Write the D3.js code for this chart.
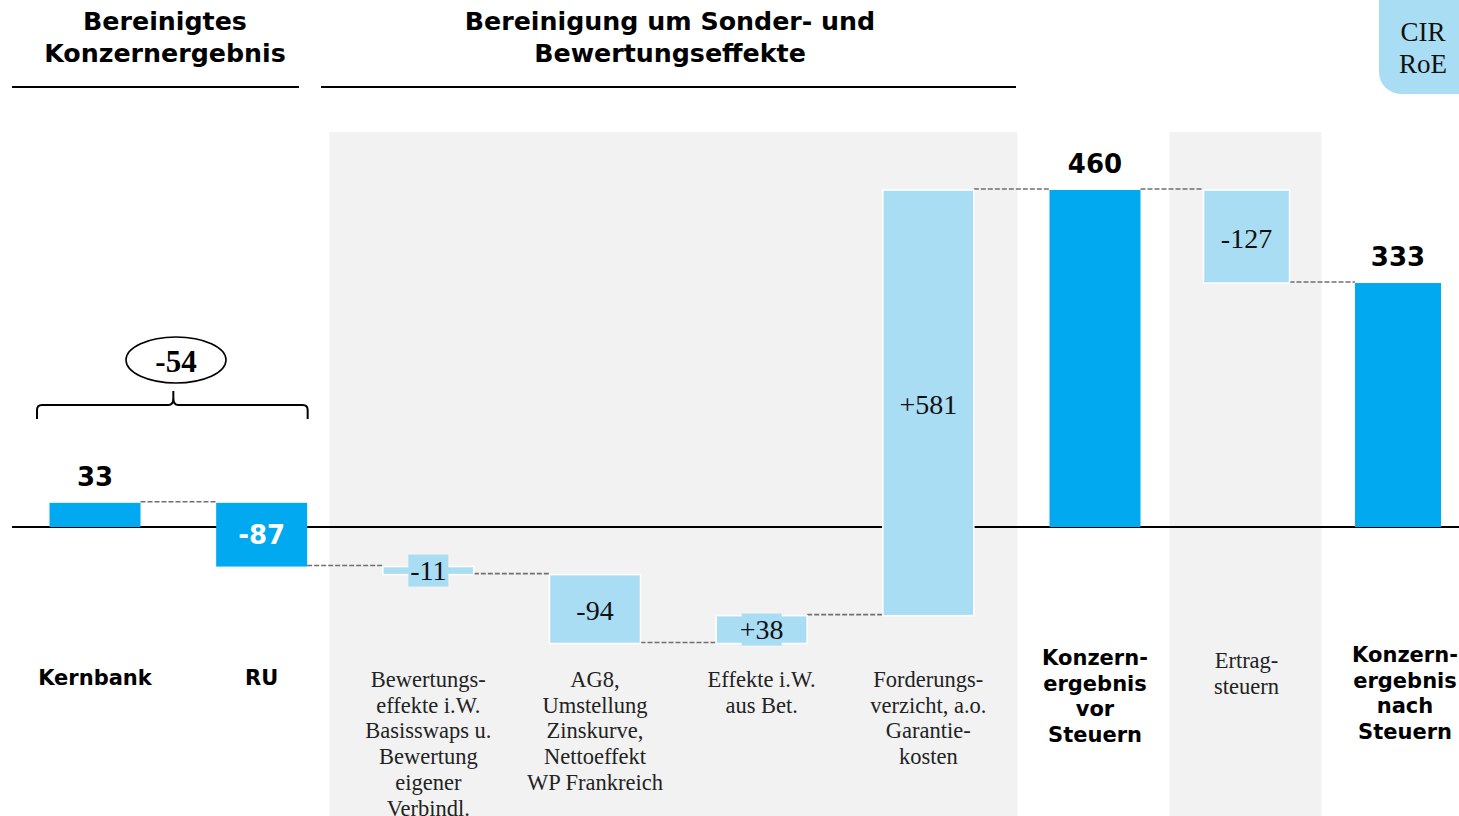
<!DOCTYPE html>
<html>
<head>
<meta charset="utf-8">
<script src="https://cdn.jsdelivr.net/npm/d3@7"></script>
<style>
  html, body { margin: 0; padding: 0; background: #ffffff; }
  svg { display: block; }
  .heavy { font-family: "DejaVu Sans", Roboto, sans-serif; font-weight: bold; }
  .serif { font-family: "Liberation Serif", "DejaVu Serif", serif; }
</style>
</head>
<body>
<svg id="chart" width="1459" height="816"></svg>
<script>
// Waterfall: bereinigtes Konzernergebnis bis Konzernergebnis nach Steuern (Mio. €)
const categories = ["Kernbank", "RU", "Bewertungseffekte", "AG8", "Effekte Bet.", "Forderungsverzicht",
                    "Konzernergebnis vor Steuern", "Ertragsteuern", "Konzernergebnis nach Steuern"];
const values = [33, -87, -11, -94, 38, 581, 460, -127, 333];
// start = first bar from zero, step = change from previous level, total = sum bar from zero
const kinds = ["start", "step", "step", "step", "step", "step", "total", "step", "total"];
const valueLabels = ["33", "-87", "-11", "-94", "+38", "+581", "460", "-127", "333"];
const categoryLines = [
  ["Kernbank"],
  ["RU"],
  ["Bewertungs-", "effekte i.W.", "Basisswaps u.", "Bewertung", "eigener", "Verbindl."],
  ["AG8,", "Umstellung", "Zinskurve,", "Nettoeffekt", "WP Frankreich"],
  ["Effekte i.W.", "aus Bet."],
  ["Forderungs-", "verzicht, a.o.", "Garantie-", "kosten"],
  ["Konzern-", "ergebnis", "vor", "Steuern"],
  ["Ertrag-", "steuern"],
  ["Konzern-", "ergebnis", "nach", "Steuern"]
];
const headerLeft = ["Bereinigtes", "Konzernergebnis"];
const headerRight = ["Bereinigung um Sonder- und", "Bewertungseffekte"];
const sideKpis = ["CIR", "RoE"];

const DARK = "#00a9f0";
const LIGHT = "#a9ddf3";
const PANEL = "#f2f2f2";

const svg = d3.select("#chart");

// scales
const y = d3.scaleLinear().domain([0, 460]).range([527, 190]);
const x = d3.scaleLinear().domain([0, 6, 8]).range([95, 1095, 1398]);
const barW = i => (i >= 7 ? 86 : 91);

// running levels
let level = 0;
const bars = values.map((v, i) => {
  let from, to;
  if (kinds[i] === "total") { from = 0; to = v; level = v; }
  else if (kinds[i] === "start") { from = 0; to = v; level = v; }
  else { from = level; to = level + v; level = to; }
  return { i, v, from, to, kind: kinds[i], label: valueLabels[i], cat: categories[i] };
});
// first two bars (Kernbank, RU) are drawn as dark segment bars
bars.forEach(b => { b.dark = b.kind !== "step" || b.i < 2; });

// background panels
svg.append("rect").attr("x", x(2) - 99).attr("y", 132)
  .attr("width", (x(5) + 89) - (x(2) - 99)).attr("height", 816 - 132).attr("fill", PANEL);
svg.append("rect").attr("x", x(7) - 77).attr("y", 132)
  .attr("width", 152).attr("height", 816 - 132).attr("fill", PANEL);

// headers
const hdr = svg.append("g").attr("class", "heavy").attr("font-size", 25.3).attr("text-anchor", "middle");
headerLeft.forEach((t, k) => hdr.append("text").attr("x", 165).attr("y", 30 + k * 32).text(t));
headerRight.forEach((t, k) => hdr.append("text").attr("x", 670).attr("y", 30 + k * 32).text(t));
svg.append("line").attr("x1", 12).attr("x2", 299).attr("y1", 87).attr("y2", 87).attr("stroke", "#000").attr("stroke-width", 2);
svg.append("line").attr("x1", 321).attr("x2", 1016).attr("y1", 87).attr("y2", 87).attr("stroke", "#000").attr("stroke-width", 2);

// KPI tab at top right
svg.append("rect").attr("x", 1379).attr("y", -40).attr("width", 120).attr("height", 134)
  .attr("rx", 22).attr("fill", LIGHT);
sideKpis.forEach((t, k) => svg.append("text").attr("class", "serif").attr("font-size", 27)
  .attr("x", 1423).attr("y", 41 + k * 32).attr("text-anchor", "middle").attr("fill", "#111").text(t));

// zero line
svg.append("line").attr("x1", 12).attr("x2", 1459).attr("y1", y(0)).attr("y2", y(0))
  .attr("stroke", "#000").attr("stroke-width", 2);

// connectors
const conn = svg.append("g");
bars.slice(0, -1).forEach((b, k) => {
  const n = bars[k + 1];
  conn.append("line")
    .attr("x1", x(b.i) + barW(b.i) / 2).attr("x2", x(n.i) - barW(n.i) / 2)
    .attr("y1", y(b.to) - 1).attr("y2", y(b.to) - 1)
    .attr("stroke", "#707070").attr("stroke-width", 1.6).attr("stroke-dasharray", "5,2");
});

// bars
svg.append("g").selectAll("rect").data(bars).join("rect")
  .attr("x", d => x(d.i) - barW(d.i) / 2)
  .attr("y", d => y(Math.max(d.from, d.to)))
  .attr("width", d => barW(d.i))
  .attr("height", d => Math.abs(y(d.from) - y(d.to)))
  .attr("fill", d => d.dark ? DARK : LIGHT)
  .attr("stroke", d => d.dark ? "none" : "#fff")
  .attr("stroke-width", 1.5);

// value labels
const lab = svg.append("g").attr("text-anchor", "middle");
bars.forEach(d => {
  const cx = x(d.i);
  const top = y(Math.max(d.from, d.to));
  const bot = y(Math.min(d.from, d.to));
  if (d.kind === "start" || d.kind === "total") {
    lab.append("text").attr("class", "heavy").attr("font-size", 26)
      .attr("x", cx).attr("y", top - 17).attr("fill", "#000").text(d.label);
  } else if (d.i < 2) {
    lab.append("text").attr("class", "heavy").attr("font-size", 26)
      .attr("x", cx).attr("y", (top + bot) / 2 + 9).attr("fill", "#fff").text(d.label);
  } else {
    const h = bot - top;
    if (h < 30) {
      lab.append("rect").attr("x", cx - 20).attr("y", (top + bot) / 2 - 16)
        .attr("width", 40).attr("height", 32).attr("fill", LIGHT);
    }
    lab.append("text").attr("class", "serif").attr("font-size", 28)
      .attr("x", cx).attr("y", (top + bot) / 2 + (h < 30 ? 9 : 11)).attr("fill", "#111").text(d.label);
  }
});

// bracket showing combined result of Kernbank and RU
const sum = values[0] + values[1];
const bx1 = x(0) - 58, bx2 = x(1) + 46, bm = (x(0) + x(1)) / 2 - 5;
const br = d3.path();
br.moveTo(bx1, 419);
br.lineTo(bx1, 410); br.quadraticCurveTo(bx1, 405, bx1 + 5, 405);
br.lineTo(bm - 5, 405); br.quadraticCurveTo(bm, 405, bm, 398); br.lineTo(bm, 391);
br.moveTo(bm, 398); br.quadraticCurveTo(bm, 405, bm + 5, 405);
br.lineTo(bx2 - 5, 405); br.quadraticCurveTo(bx2, 405, bx2, 410); br.lineTo(bx2, 419);
svg.append("path").attr("d", br.toString()).attr("fill", "none").attr("stroke", "#000").attr("stroke-width", 2);
svg.append("ellipse").attr("cx", 176).attr("cy", 360).attr("rx", 50).attr("ry", 23)
  .attr("fill", "#fff").attr("stroke", "#000").attr("stroke-width", 1.6);
svg.append("text").attr("class", "serif").attr("font-size", 31).attr("font-weight", "bold")
  .attr("x", 176).attr("y", 372).attr("text-anchor", "middle").text(String(sum));

// category labels
const heavyCats = [0, 1, 6, 8];
const catTop = [678, 678, 680, 680, 680, 680, 658, 661, 655];
categoryLines.forEach((lines, i) => {
  const heavy = heavyCats.includes(i);
  const g = svg.append("g").attr("text-anchor", "middle");
  lines.forEach((t, k) => g.append("text")
    .attr("class", heavy ? "heavy" : "serif")
    .attr("font-size", heavy ? 21 : 22.5)
    .attr("fill", heavy ? "#000" : "#222")
    .attr("x", x(i) + (i === 8 ? 7 : 0))
    .attr("y", catTop[i] + 7 + k * 25.7)
    .text(t));
});
</script>
</body>
</html>
